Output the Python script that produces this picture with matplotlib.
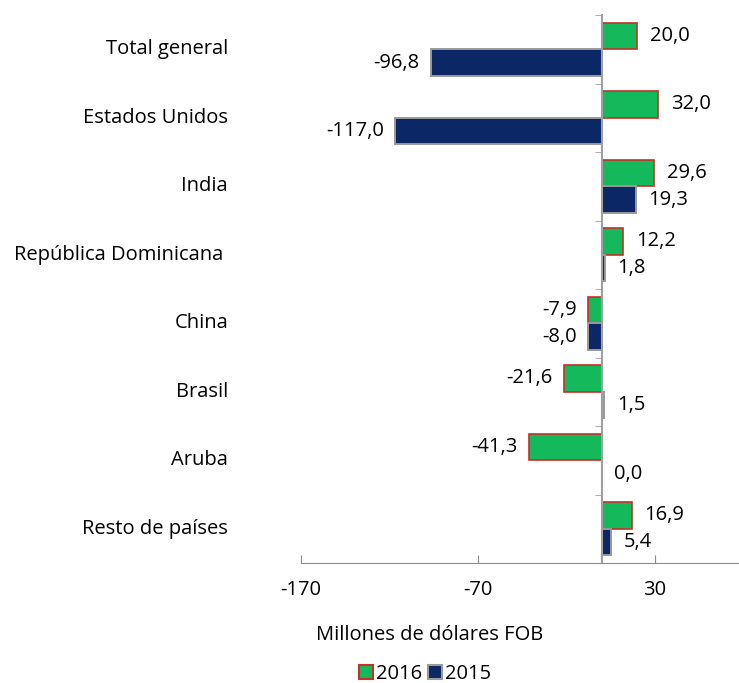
import numpy as np
import matplotlib.pyplot as plt
from matplotlib.transforms import blended_transform_factory
from matplotlib.patches import Patch

plt.rcParams['font.family'] = ['Open Sans', 'DejaVu Sans']

#data
categories = ['Total general', 'Estados Unidos', 'India', 'República Dominicana ',
              'China', 'Brasil', 'Aruba', 'Resto de países']
v2016 = [20.0, 32.0, 29.6, 12.2, -7.9, -21.6, -41.3, 16.9]
v2015 = [-96.8, -117.0, 19.3, 1.8, -8.0, 1.5, 0.0, 5.4]
xticks = [-170, -70, 30]

green = '#13B95A'
blue = '#0B2766'
fs = 14.5

fig = plt.figure(figsize=(7.39, 6.83), dpi=100)
ax = fig.add_axes([301/739, 1 - 563/683, 437/739, 548/683])

y = np.arange(len(categories))
h = 0.39
ax.barh(y - h/2, v2016, height=h, color=green, edgecolor='#C8302A', linewidth=1.2, label='2016')
ax.barh(y + h/2, v2015, height=h, color=blue, edgecolor='#9A9A9A', linewidth=1.4, label='2015')

#value labels
def fmt(v):
    return f'{v:.1f}'.replace('.', ',')

for yy, vals in [(y - h/2, v2016), (y + h/2, v2015)]:
    for yi, v in zip(yy, vals):
        if v < 0:
            ax.annotate(fmt(v), (v, yi), xytext=(-8, 0), textcoords='offset points',
                        ha='right', va='center', fontsize=fs)
        else:
            ax.annotate(fmt(v), (v, yi), xytext=(9, 0), textcoords='offset points',
                        ha='left', va='center', fontsize=fs)

ax.set_xlim(-170, 77)
ax.set_ylim(len(categories) - 0.5, -0.5)

#axes styling
for s in ['top', 'right']:
    ax.spines[s].set_visible(False)
ax.spines['left'].set_position(('data', 0))
ax.spines['left'].set_color('#A0A0A0')
ax.spines['left'].set_linewidth(1.5)
ax.spines['bottom'].set_color('#8C8C8C')
ax.set_yticks([])
ax.set_yticks(np.arange(len(categories) + 1) - 0.5, minor=True)
ax.tick_params(axis='y', which='minor', length=5, color='#A0A0A0', direction='out')
ax.set_xticks(xticks)
ax.set_xticklabels([str(t) for t in xticks])
ax.tick_params(axis='x', direction='in', length=6, color='#8C8C8C', labelsize=fs, pad=12)

trans = blended_transform_factory(ax.transAxes, ax.transData)
for yi, c in zip(y, categories):
    ax.text(-0.167, yi, c, transform=trans, ha='right', va='center', fontsize=fs)

fig.text(430/739, 1 - 635/683, 'Millones de dólares FOB', ha='center', va='center', fontsize=fs)

handles = [Patch(facecolor=green, edgecolor='#C8302A', linewidth=1.5, label='2016'),
           Patch(facecolor=blue, edgecolor='#9A9A9A', linewidth=1.5, label='2015')]
fig.legend(handles=handles, loc='center', bbox_to_anchor=(425/739, 1 - 674/683), ncol=2,
           frameon=False, fontsize=fs, handlelength=0.7, handleheight=0.7,
           handletextpad=0.15, columnspacing=0.3)

fig.savefig('out.png', dpi=100)
